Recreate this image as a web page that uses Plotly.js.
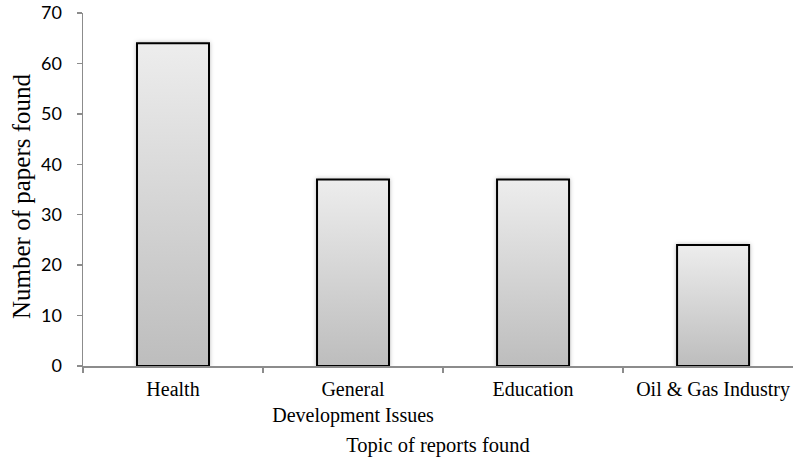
<!DOCTYPE html>
<html>
<head>
<meta charset="utf-8">
<script src="https://cdn.plot.ly/plotly-3.0.1.min.js"></script>
<style>html,body{margin:0;padding:0;background:#fff;} #chart{width:793px;height:459px;}</style>
</head>
<body>
<div id="chart"></div>
<script>
const categories = ["Health", "General<br>Development Issues", "Education", "Oil & Gas Industry"];
const papersFound = [64, 37, 37, 24];
const yTicks = [0, 10, 20, 30, 40, 50, 60, 70];

const serif = "Liberation Serif, Times New Roman, serif";

const trace = {
  type: "bar",
  x: categories,
  y: papersFound,
  marker: { color: "#d4d4d4", line: { color: "#000000", width: 2 } },
  hoverinfo: "none"
};

const layout = {
  width: 793, height: 459,
  margin: { l: 83, r: 0, t: 13, b: 93 },
  paper_bgcolor: "#ffffff", plot_bgcolor: "#ffffff",
  bargap: 0.6,
  showlegend: false,
  xaxis: {
    type: "category",
    range: [-0.5, 3.444],
    showline: true, linecolor: "#8c8c8c", linewidth: 1.5,
    ticks: "outside", tickson: "boundaries", ticklen: 5, tickcolor: "#8c8c8c", tickwidth: 1.5,
    showgrid: false, zeroline: false, automargin: false,
    tickfont: { family: serif, size: 20, color: "#000" },
    ticklabelstandoff: 4,
    title: { text: "Topic of reports found", font: { family: serif, size: 20.5, color: "#000" }, standoff: 12 }
  },
  yaxis: {
    range: [0, 70],
    tickvals: yTicks,
    showline: true, linecolor: "#8c8c8c", linewidth: 1.5,
    ticks: "outside", ticklen: 5, tickcolor: "#8c8c8c", tickwidth: 1.5,
    showgrid: false, zeroline: false, automargin: false,
    tickfont: { family: "Lato, Open Sans, sans-serif", size: 18, color: "#000" },
    ticklabelstandoff: 11,
    title: { text: "Number of papers found", font: { family: serif, size: 25, color: "#000" }, standoff: 3 }
  }
};

Plotly.newPlot("chart", [trace], layout, { staticPlot: true }).then(function (gd) {
  const svg = gd.querySelector("svg.main-svg");
  const ns = "http://www.w3.org/2000/svg";
  let defs = svg.querySelector("defs");
  if (!defs) { defs = document.createElementNS(ns, "defs"); svg.insertBefore(defs, svg.firstChild); }
  const grad = document.createElementNS(ns, "linearGradient");
  grad.setAttribute("id", "barGrad");
  grad.setAttribute("x1", "0"); grad.setAttribute("y1", "0");
  grad.setAttribute("x2", "0"); grad.setAttribute("y2", "1");
  const s1 = document.createElementNS(ns, "stop");
  s1.setAttribute("offset", "0"); s1.setAttribute("stop-color", "#ededed");
  const s2 = document.createElementNS(ns, "stop");
  s2.setAttribute("offset", "1"); s2.setAttribute("stop-color", "#bdbdbd");
  grad.appendChild(s1); grad.appendChild(s2);
  defs.appendChild(grad);
  const filt = document.createElementNS(ns, "filter");
  filt.setAttribute("id", "barShadow");
  filt.setAttribute("x", "-20%"); filt.setAttribute("y", "-20%");
  filt.setAttribute("width", "140%"); filt.setAttribute("height", "140%");
  const ds = document.createElementNS(ns, "feDropShadow");
  ds.setAttribute("dx", "0"); ds.setAttribute("dy", "0");
  ds.setAttribute("stdDeviation", "2"); ds.setAttribute("flood-color", "#000"); ds.setAttribute("flood-opacity", "0.25");
  filt.appendChild(ds);
  defs.appendChild(filt);
  gd.querySelectorAll(".bars .point path").forEach(function (p) {
    p.style.fill = "url(#barGrad)";
    p.setAttribute("filter", "url(#barShadow)");
  });
  const yt = gd.querySelector(".g-ytitle");
  if (yt) yt.setAttribute("transform", "translate(0,7)");
});
</script>
</body>
</html>
